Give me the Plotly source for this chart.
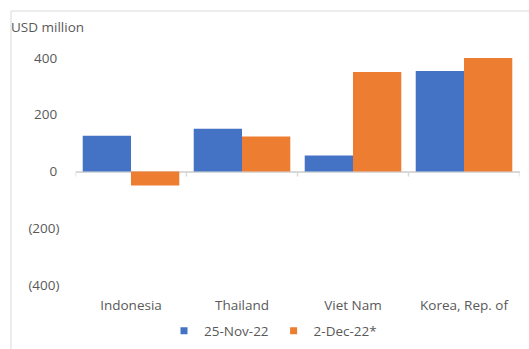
import plotly.graph_objects as go

categories = ["Indonesia", "Thailand", "Viet Nam", "Korea, Rep. of"]
nov25 = [126, 151, 56, 354]
dec2 = [-49, 123, 351, 400]
series_names = ["25-Nov-22", "2-Dec-22*"]
tick_vals = [-400, -200, 0, 200, 400]
tick_text = ["(400)", "(200)", "0\u2009", "200\u2009", "400\u2009"]
colors = ["#4472C4", "#ED7D31"]

W, H = 529, 349
FONT = "Open Sans"
GRAY = "#595959"

fig = go.Figure()
for name, vals, col in zip(series_names, [nov25, dec2], colors):
    fig.add_trace(go.Bar(x=categories, y=vals, name=name, showlegend=False,
                         marker=dict(color=col, line=dict(width=0))))
# legend entries with small square markers
for name, col in zip(series_names, colors):
    fig.add_trace(go.Scatter(x=[None], y=[None], mode="markers", name=name,
                             marker=dict(symbol="square", size=7, color=col)))

x0, x1 = 75.5, 519.5
y_top, y_bot = 58, 285

shapes = []
shapes.append(dict(type="line", xref="paper", yref="paper", x0=11/W, x1=1, y0=1-11/H, y1=1-11/H,
                   line=dict(color="#d9d9d9", width=1)))
shapes.append(dict(type="line", xref="paper", yref="paper", x0=11/W, x1=11/W, y0=0, y1=1-11/H,
                   line=dict(color="#d9d9d9", width=1)))
for i in range(len(categories) + 1):
    shapes.append(dict(type="line", xref="x", yref="y", ysizemode="pixel", yanchor=0,
                       x0=i - 0.5, x1=i - 0.5, y0=0, y1=-5,
                       line=dict(color="#d9d9d9", width=1.5)))

fig.update_layout(
    width=W, height=H,
    margin=dict(l=0, r=0, t=0, b=0, autoexpand=False),
    paper_bgcolor="white", plot_bgcolor="white",
    barmode="group", bargap=0.13, bargroupgap=0,
    font=dict(family=FONT, size=13.5, color=GRAY),
    xaxis=dict(domain=[x0/W, x1/W], showline=False, ticks="", showgrid=False, automargin=False,
               tickfont=dict(size=13.5, color=GRAY), ticklabelstandoff=10,
               range=[-0.5, len(categories) - 0.5]),
    yaxis=dict(domain=[1 - y_bot/H, 1 - y_top/H], range=[-400, 400], automargin=False,
               tickvals=tick_vals, ticktext=tick_text, showgrid=False,
               zeroline=True, zerolinecolor="#d9d9d9", zerolinewidth=1.5,
               showline=False, ticks="", ticklabelstandoff=15,
               tickfont=dict(size=13.5, color=GRAY)),
    legend=dict(orientation="h", x=164/W, xanchor="left", y=1 - 331/H, yanchor="middle",
                font=dict(size=13.5, color=GRAY), itemwidth=30, traceorder="normal",
                tracegroupgap=0),
    shapes=shapes,
    annotations=[dict(text="USD million", xref="paper", yref="paper", x=9/W, y=1 - 27/H,
                      xanchor="left", yanchor="middle", showarrow=False,
                      font=dict(size=13.5, color=GRAY))],
)

fig.write_html("out.html")
